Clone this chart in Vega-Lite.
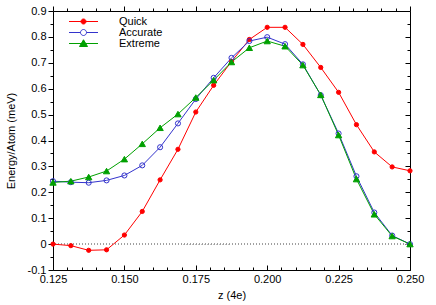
{
  "$schema": "https://vega.github.io/schema/vega-lite/v6.json",
  "width": 357,
  "height": 259,
  "autosize": {"type": "none"},
  "padding": {"left": 53, "top": 11, "right": 26, "bottom": 35},
  "background": "white",
  "config": {
    "view": {"stroke": "black", "strokeWidth": 1},
    "font": "Liberation Sans",
    "axis": {"labelFont": "Liberation Sans", "titleFont": "Liberation Sans", "labelColor": "black", "titleColor": "black", "titleFontWeight": "normal", "labelFontSize": 11, "titleFontSize": 11, "domain": false, "grid": false, "ticks": true, "tickColor": "black", "tickWidth": 1, "tickOpacity": 1, "zindex": 1}
  },
  "data": {"values": [
    {"z": 0.125, "E": 0.0, "s": "Quick"},
    {"z": 0.13125, "E": -0.006, "s": "Quick"},
    {"z": 0.1375, "E": -0.024, "s": "Quick"},
    {"z": 0.14375, "E": -0.022, "s": "Quick"},
    {"z": 0.15, "E": 0.035, "s": "Quick"},
    {"z": 0.15625, "E": 0.126, "s": "Quick"},
    {"z": 0.1625, "E": 0.248, "s": "Quick"},
    {"z": 0.16875, "E": 0.366, "s": "Quick"},
    {"z": 0.175, "E": 0.51, "s": "Quick"},
    {"z": 0.18125, "E": 0.613, "s": "Quick"},
    {"z": 0.1875, "E": 0.705, "s": "Quick"},
    {"z": 0.19375, "E": 0.79, "s": "Quick"},
    {"z": 0.2, "E": 0.837, "s": "Quick"},
    {"z": 0.20625, "E": 0.837, "s": "Quick"},
    {"z": 0.2125, "E": 0.771, "s": "Quick"},
    {"z": 0.21875, "E": 0.682, "s": "Quick"},
    {"z": 0.225, "E": 0.586, "s": "Quick"},
    {"z": 0.23125, "E": 0.461, "s": "Quick"},
    {"z": 0.2375, "E": 0.356, "s": "Quick"},
    {"z": 0.24375, "E": 0.298, "s": "Quick"},
    {"z": 0.25, "E": 0.283, "s": "Quick"},
    {"z": 0.125, "E": 0.243, "s": "Accurate"},
    {"z": 0.13125, "E": 0.239, "s": "Accurate"},
    {"z": 0.1375, "E": 0.237, "s": "Accurate"},
    {"z": 0.14375, "E": 0.246, "s": "Accurate"},
    {"z": 0.15, "E": 0.265, "s": "Accurate"},
    {"z": 0.15625, "E": 0.304, "s": "Accurate"},
    {"z": 0.1625, "E": 0.374, "s": "Accurate"},
    {"z": 0.16875, "E": 0.466, "s": "Accurate"},
    {"z": 0.175, "E": 0.56, "s": "Accurate"},
    {"z": 0.18125, "E": 0.642, "s": "Accurate"},
    {"z": 0.1875, "E": 0.719, "s": "Accurate"},
    {"z": 0.19375, "E": 0.784, "s": "Accurate"},
    {"z": 0.2, "E": 0.799, "s": "Accurate"},
    {"z": 0.20625, "E": 0.772, "s": "Accurate"},
    {"z": 0.2125, "E": 0.694, "s": "Accurate"},
    {"z": 0.21875, "E": 0.575, "s": "Accurate"},
    {"z": 0.225, "E": 0.427, "s": "Accurate"},
    {"z": 0.23125, "E": 0.262, "s": "Accurate"},
    {"z": 0.2375, "E": 0.122, "s": "Accurate"},
    {"z": 0.24375, "E": 0.033, "s": "Accurate"},
    {"z": 0.25, "E": 0.0, "s": "Accurate"},
    {"z": 0.125, "E": 0.238, "s": "Extreme"},
    {"z": 0.13125, "E": 0.243, "s": "Extreme"},
    {"z": 0.1375, "E": 0.259, "s": "Extreme"},
    {"z": 0.14375, "E": 0.282, "s": "Extreme"},
    {"z": 0.15, "E": 0.328, "s": "Extreme"},
    {"z": 0.15625, "E": 0.387, "s": "Extreme"},
    {"z": 0.1625, "E": 0.449, "s": "Extreme"},
    {"z": 0.16875, "E": 0.502, "s": "Extreme"},
    {"z": 0.175, "E": 0.566, "s": "Extreme"},
    {"z": 0.18125, "E": 0.633, "s": "Extreme"},
    {"z": 0.1875, "E": 0.703, "s": "Extreme"},
    {"z": 0.19375, "E": 0.758, "s": "Extreme"},
    {"z": 0.2, "E": 0.784, "s": "Extreme"},
    {"z": 0.20625, "E": 0.764, "s": "Extreme"},
    {"z": 0.2125, "E": 0.691, "s": "Extreme"},
    {"z": 0.21875, "E": 0.576, "s": "Extreme"},
    {"z": 0.225, "E": 0.421, "s": "Extreme"},
    {"z": 0.23125, "E": 0.251, "s": "Extreme"},
    {"z": 0.2375, "E": 0.115, "s": "Extreme"},
    {"z": 0.24375, "E": 0.031, "s": "Extreme"},
    {"z": 0.25, "E": 0.0, "s": "Extreme"}
  ]},
  "layer": [
    {
      "mark": {"type": "rule", "stroke": "#a0a0a0", "strokeWidth": 1, "strokeDash": [1, 2]},
      "encoding": {"y": {"datum": 0, "type": "quantitative", "scale": {"domain": [-0.1, 0.9]}, "axis": null}}
    },
    {
      "mark": {"type": "line", "strokeWidth": 1, "clip": true},
      "encoding": {
        "x": {"field": "z", "type": "quantitative", "scale": {"domain": [0.125, 0.25], "nice": false, "zero": false},
          "axis": {"orient": "bottom", "title": "z (4e)", "titlePadding": 5,
            "values": [0.125,0.13,0.135,0.14,0.145,0.15,0.155,0.16,0.165,0.17,0.175,0.18,0.185,0.19,0.195,0.2,0.205,0.21,0.215,0.22,0.225,0.23,0.235,0.24,0.245,0.25],
            "labelExpr": "abs(datum.value*40 - round(datum.value*40)) < 0.001 ? format(datum.value, '.3f') : ''",
            "tickSize": {"condition": {"test": "abs(datum.value*40 - round(datum.value*40)) < 0.001", "value": -5}, "value": -3},
            "labelPadding": 8, "labelFlush": false}},
        "y": {"field": "E", "type": "quantitative", "scale": {"domain": [-0.1, 0.9], "nice": false, "zero": false},
          "axis": {"orient": "left", "title": "Energy/Atom (meV)", "titlePadding": 11,
            "values": [-0.1,-0.05,0,0.05,0.1,0.15,0.2,0.25,0.3,0.35,0.4,0.45,0.5,0.55,0.6,0.65,0.7,0.75,0.8,0.85,0.9],
            "labelExpr": "abs(datum.value*10 - round(datum.value*10)) < 0.001 ? (datum.value < -0.05 ? '-0.1' : format(round(datum.value*10)/10, '.1~f')) : ''",
            "tickSize": {"condition": {"test": "abs(datum.value*10 - round(datum.value*10)) < 0.001", "value": 5}, "value": 3},
            "labelPadding": 2, "labelFlush": false}},
        "color": {"field": "s", "type": "nominal",
          "scale": {"domain": ["Quick", "Accurate", "Extreme"], "range": ["#ff0000", "#3333cc", "#00a000"]},
          "legend": {"orient": "none", "legendX": 25, "legendY": 5, "title": null, "padding": 0,
            "labelFont": "Liberation Sans", "labelFontSize": 11, "labelColor": "black", "labelOffset": 30,
            "rowPadding": -2, "symbolSize": 100, "symbolStrokeWidth": 1,
            "encode": {"symbols": {"update": {
              "shape": {"signal": "datum.value === 'Quick' ? 'M-2.9,0H2.9M-0.5,0A0.5,0.5 0 1,0 0.5,0A0.5,0.5 0 1,0 -0.5,0Z' : datum.value === 'Accurate' ? 'M-2.9,0H-0.6M0.6,0H2.9M-0.6,0A0.6,0.6 0 1,0 0.6,0A0.6,0.6 0 1,0 -0.6,0Z' : 'M-2.9,0H2.9M0,-0.75L0.8,0.6L-0.8,0.6Z'"},
              "fill": {"signal": "datum.value === 'Quick' ? '#ff0000' : datum.value === 'Extreme' ? '#00a000' : 'transparent'"},
              "stroke": {"signal": "datum.value === 'Quick' ? '#ff0000' : datum.value === 'Extreme' ? '#00a000' : '#3333cc'"},
              "strokeWidth": {"value": 1},
              "size": {"value": 100},
              "opacity": {"value": 1}
            }}}}
        }
      }
    },
    {
      "transform": [{"filter": "datum.s === 'Quick'"}],
      "mark": {"type": "point", "shape": "circle", "filled": true, "fill": "#ff0000", "stroke": "#ff0000", "strokeWidth": 1, "size": 18, "opacity": 1},
      "encoding": {
        "x": {"field": "z", "type": "quantitative",
          "axis": {"orient": "top", "title": null, "labels": false,
            "values": [0.125,0.13,0.135,0.14,0.145,0.15,0.155,0.16,0.165,0.17,0.175,0.18,0.185,0.19,0.195,0.2,0.205,0.21,0.215,0.22,0.225,0.23,0.235,0.24,0.245,0.25],
            "tickSize": {"condition": {"test": "abs(datum.value*40 - round(datum.value*40)) < 0.001", "value": 5}, "value": 3}}},
        "y": {"field": "E", "type": "quantitative",
          "axis": {"orient": "right", "title": null, "labels": false,
            "values": [-0.1,-0.05,0,0.05,0.1,0.15,0.2,0.25,0.3,0.35,0.4,0.45,0.5,0.55,0.6,0.65,0.7,0.75,0.8,0.85,0.9],
            "tickSize": {"condition": {"test": "abs(datum.value*10 - round(datum.value*10)) < 0.001", "value": -5}, "value": -3}}}
      }
    },
    {
      "transform": [{"filter": "datum.s === 'Accurate'"}],
      "mark": {"type": "point", "shape": "circle", "filled": false, "stroke": "#3333cc", "strokeWidth": 1, "size": 26, "opacity": 1},
      "encoding": {"x": {"field": "z", "type": "quantitative", "axis": null}, "y": {"field": "E", "type": "quantitative", "axis": null}}
    },
    {
      "transform": [{"filter": "datum.s === 'Extreme'"}],
      "mark": {"type": "point", "shape": "triangle-up", "filled": true, "fill": "#00a000", "stroke": "#00a000", "strokeWidth": 1, "size": 40, "opacity": 1},
      "encoding": {"x": {"field": "z", "type": "quantitative", "axis": null}, "y": {"field": "E", "type": "quantitative", "axis": null}}
    }
  ],
  "resolve": {"axis": {"x": "independent", "y": "independent"}}
}
